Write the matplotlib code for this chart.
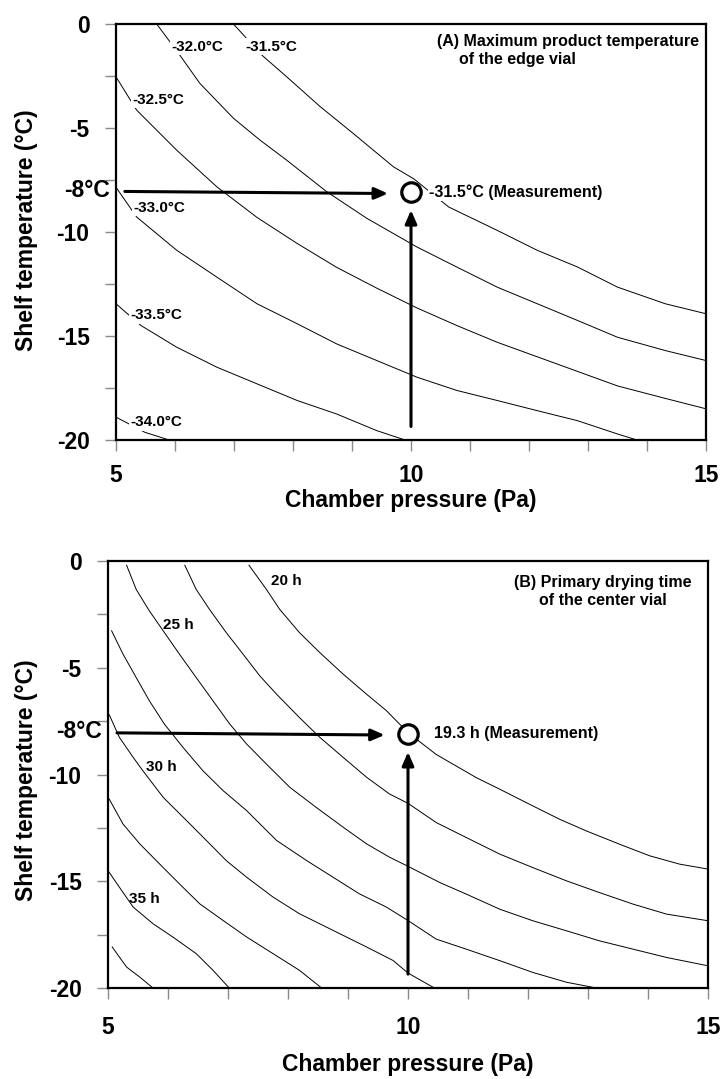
import matplotlib.pyplot as plt

plt.rcParams['font.family'] = ['Liberation Sans', 'DejaVu Sans']
plt.rcParams['font.weight'] = 'bold'

# ---- data: chamber pressure (Pa) vs shelf temperature (degC)

# (A) maximum product temperature of the edge vial
a_levels = ['-31.5°C', '-32.0°C', '-32.5°C', '-33.0°C', '-33.5°C', '-34.0°C']
a_p_lines = [
    [6.99, 7.47, 7.89, 8.46, 9.02, 9.7, 10.05, 10.64, 11.46, 12.14, 12.82, 13.5, 14.31, 15.0],
    [5.69, 6.08, 6.42, 6.99, 7.44, 7.89, 8.57, 9.25, 10.1, 10.78, 11.46, 12.14, 12.82, 13.5, 14.31, 15.0],
    [5.0, 5.35, 6.03, 6.71, 7.39, 8.07, 8.74, 9.42, 10.1, 10.78, 11.46, 12.14, 12.82, 13.5, 14.31, 15.0],
    [5.0, 5.35, 6.03, 6.71, 7.39, 8.07, 8.74, 9.42, 10.1, 10.78, 11.46, 12.14, 12.82, 13.5, 13.83],
    [5.0, 5.42, 6.03, 6.71, 7.39, 8.07, 8.74, 9.42, 9.9],
    [5.0, 5.49, 5.9],
]
a_t_lines = [
    [0, -1.49, -2.53, -3.97, -5.26, -6.86, -7.45, -8.8, -9.92, -10.88, -11.68, -12.65, -13.45, -13.93],
    [0, -1.49, -2.85, -4.53, -5.58, -6.54, -8.06, -9.34, -10.72, -11.69, -12.65, -13.45, -14.25, -15.06, -15.7, -16.18],
    [-2.54, -4.14, -6.07, -7.83, -9.3, -10.55, -11.7, -12.7, -13.65, -14.5, -15.3, -16.0, -16.7, -17.4, -18.0, -18.5],
    [-7.85, -9.28, -10.88, -12.17, -13.45, -14.41, -15.38, -16.18, -16.98, -17.62, -18.1, -18.59, -19.07, -19.71, -20.0],
    [-13.45, -14.49, -15.54, -16.5, -17.3, -18.1, -18.75, -19.55, -20.0],
    [-18.9, -19.63, -20.0],
]
a_label_p = [7.64, 6.37, 5.71, 5.73, 5.69, 5.69]
a_label_t = [-1.09, -1.09, -3.65, -8.85, -14.0, -19.15]

# (B) primary drying time of the center vial
b_levels = ['20 h', '', '25 h', '', '30 h', '', '35 h', '']
b_p_lines = [
    [7.35, 7.64, 7.86, 8.19, 8.53, 8.92, 9.31, 9.64, 9.86, 10.11, 10.47, 11.14, 11.53, 12.08, 12.53, 12.97, 13.53, 14.03, 14.53, 15.0],
    [6.28, 6.47, 6.69, 6.97, 7.25, 7.53, 7.81, 8.19, 8.53, 8.92, 9.31, 9.69, 10.0, 10.47, 10.97, 11.53, 12.08, 12.64, 13.19, 13.75, 14.31, 15.0],
    [5.31, 5.47, 5.69, 5.92, 6.19, 6.47, 6.75, 7.03, 7.31, 7.64, 8.03, 8.47, 8.92, 9.31, 9.69, 10.0, 10.53, 10.97, 11.53, 12.08, 12.64, 13.19, 13.75, 14.31, 15.0],
    [5.06, 5.25, 5.47, 5.69, 5.94, 6.25, 6.58, 6.92, 7.31, 7.81, 8.31, 8.75, 9.19, 9.64, 10.0, 10.47, 10.97, 11.53, 12.08, 12.64, 13.14],
    [5.02, 5.19, 5.42, 5.58, 5.92, 6.31, 6.64, 6.97, 7.31, 7.75, 8.19, 8.75, 9.31, 9.75, 10.0, 10.44],
    [5.02, 5.25, 5.53, 5.86, 6.19, 6.53, 6.92, 7.31, 7.75, 8.19, 8.56],
    [5.0, 5.19, 5.42, 5.75, 6.08, 6.47, 6.75, 7.02],
    [5.07, 5.31, 5.53, 5.75],
]
b_t_lines = [
    [-0.2, -1.33, -2.26, -3.35, -4.29, -5.3, -6.24, -7.01, -7.64, -8.28, -9.06, -10.15, -10.69, -11.47, -12.1, -12.64, -13.27, -13.81, -14.2, -14.43],
    [-0.2, -1.33, -2.26, -3.35, -4.36, -5.38, -6.24, -7.33, -8.26, -9.2, -10.13, -10.91, -11.35, -12.25, -12.95, -13.73, -14.36, -14.98, -15.53, -16.07, -16.54, -16.85],
    [-0.2, -1.33, -2.34, -3.27, -4.36, -5.46, -6.55, -7.64, -8.57, -9.51, -10.6, -11.54, -12.47, -13.25, -13.87, -14.3, -15.06, -15.6, -16.31, -16.85, -17.32, -17.79, -18.18, -18.57, -18.96],
    [-3.27, -4.36, -5.46, -6.55, -7.64, -8.73, -9.82, -10.76, -11.69, -13.09, -14.03, -14.81, -15.59, -16.21, -16.84, -17.71, -18.18, -18.72, -19.27, -19.73, -20.0],
    [-7.2, -8.26, -9.2, -9.82, -11.07, -12.16, -13.09, -14.03, -14.81, -15.74, -16.52, -17.3, -18.08, -18.71, -19.3, -20.0],
    [-11.15, -12.32, -13.25, -14.19, -15.12, -16.06, -16.84, -17.61, -18.39, -19.17, -20.0],
    [-14.5, -15.28, -16.21, -16.99, -17.61, -18.39, -19.17, -20.0],
    [-18.08, -19.02, -19.49, -20.0],
]
b_label_p = [7.97, 0, 6.17, 0, 5.89, 0, 5.61, 0]
b_label_t = [-0.94, 0, -2.99, 0, -9.67, 0, -15.82, 0]

# measurement point (10 Pa, -8 degC)
meas_p = 10.0
meas_t = -8.1
a_meas_text = '-31.5°C (Measurement)'
b_meas_text = '19.3 h (Measurement)'

x_ticks = [5, 6, 7, 8, 9, 10, 11, 12, 13, 14, 15]
y_ticks = [0, -2.5, -5, -7.5, -10, -12.5, -15, -17.5, -20]


def tick_lbl(v):
    return str(int(v)) if v % 5 == 0 else ''


fig = plt.figure(figsize=(7.22, 10.79), dpi=100)
ax1 = fig.add_axes([116 / 722, 1 - 440 / 1079, 590 / 722, 416 / 1079])
ax2 = fig.add_axes([108 / 722, 1 - 988 / 1079, 600 / 722, 427 / 1079])


def setup(ax, xpad, ypad):
    ax.set_xlim(5, 15)
    ax.set_ylim(-20, 0)
    ax.set_xticks(x_ticks)
    ax.set_xticklabels([tick_lbl(v) for v in x_ticks])
    ax.set_yticks(y_ticks)
    ax.set_yticklabels([tick_lbl(v) for v in y_ticks])
    ax.tick_params(direction='out', length=8, width=1, color='#8a8a8a',
                   labelsize=16.5, labelcolor='black')
    ax.tick_params(axis='x', pad=xpad)
    ax.tick_params(axis='y', pad=ypad)
    for s in ax.spines.values():
        s.set_linewidth(1.6)
        s.set_color('black')


def lines(ax, p_lines, t_lines, levels, lp, lt, mask):
    for p, t in zip(p_lines, t_lines):
        ax.plot(p, t, color='black', lw=0.7)
    for lab, x, y in zip(levels, lp, lt):
        if lab:
            bb = dict(facecolor='white', edgecolor='none', pad=1.0) if mask else None
            ax.text(x, y, lab, fontsize=11, ha='center', va='center', bbox=bb)


def measurement(ax, txt, txt_p):
    arrow = dict(arrowstyle='-|>,head_length=0.8,head_width=0.35', lw=2.2,
                 color='black', shrinkA=0, shrinkB=0)
    ax.annotate('', xy=(9.61, meas_t - 0.05), xytext=(5.15, meas_t + 0.05), arrowprops=arrow)
    ax.annotate('', xy=(meas_p, -8.95), xytext=(meas_p, -19.35), arrowprops=arrow)
    ax.plot([meas_p], [meas_t], 'o', ms=14, mfc='white', mec='black', mew=2.3)
    ax.text(txt_p, meas_t, txt, fontsize=11.5, ha='left', va='center',
            bbox=dict(facecolor='white', edgecolor='none', pad=0.5))
    ax.text(-0.010, -8, '-8°C', transform=ax.get_yaxis_transform(),
            fontsize=16.5, ha='right', va='center')


setup(ax1, 9, 11)
lines(ax1, a_p_lines, a_t_lines, a_levels, a_label_p, a_label_t, True)
measurement(ax1, a_meas_text, 10.3)
ax1.text(10.44, -0.85, '(A) Maximum product temperature', fontsize=11.5, ha='left', va='center')
ax1.text(10.81, -1.73, 'of the edge vial', fontsize=11.5, ha='left', va='center')

setup(ax2, 12, 11)
lines(ax2, b_p_lines, b_t_lines, b_levels, b_label_p, b_label_t, False)
measurement(ax2, b_meas_text, 10.44)
ax2.text(13.24, -1.43, '(B) Primary drying time\nof the center vial', fontsize=11.5,
         ha='center', va='center', multialignment='center', linespacing=1.25)

for yc in (230, 780):
    fig.text(27 / 722, 1 - yc / 1079, 'Shelf temperature (°C)', fontsize=16.5,
             rotation=90, ha='center', va='center')
for xc, yc in ((411, 501), (408, 1065)):
    fig.text(xc / 722, 1 - yc / 1079, 'Chamber pressure (Pa)', fontsize=16.5,
             ha='center', va='center')

fig.savefig('out.png', dpi=100)
